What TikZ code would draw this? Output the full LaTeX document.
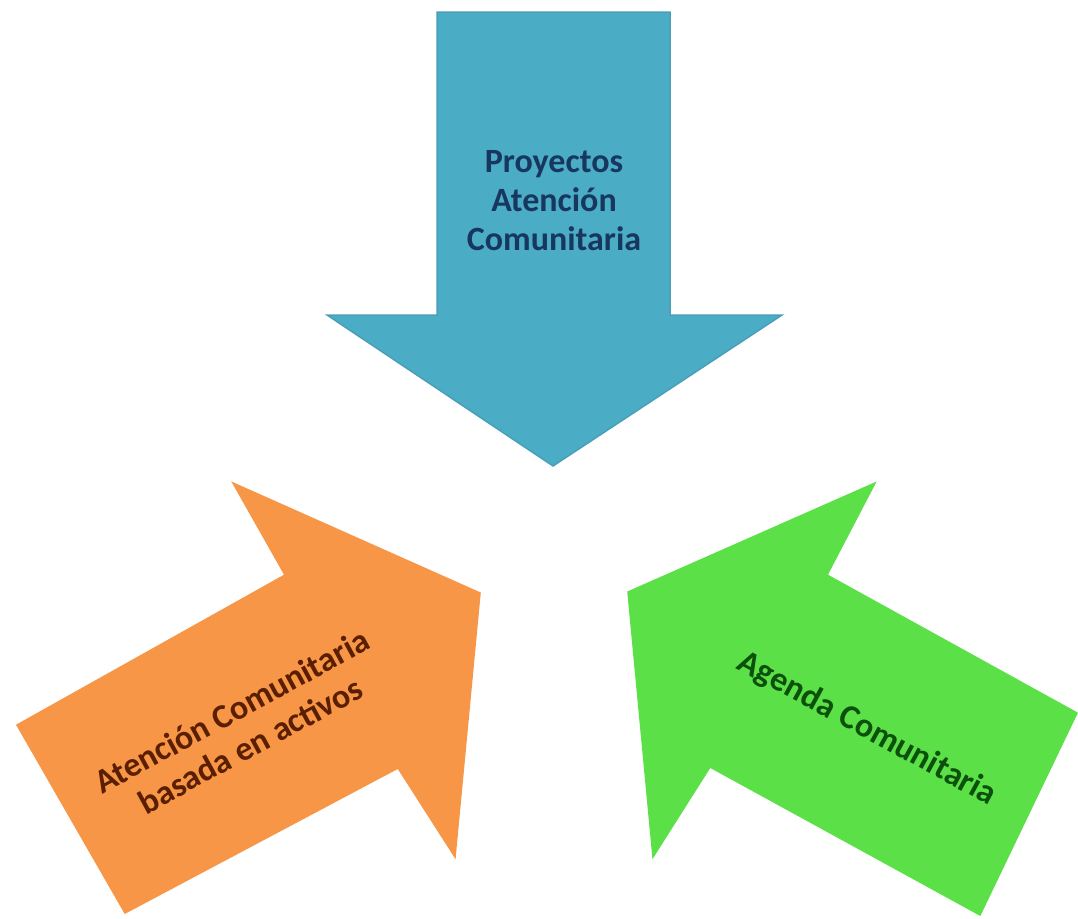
\documentclass[tikz,border=0pt]{standalone}
\usepackage{fontspec}
\setmainfont{Carlito}
\definecolor{bluefill}{HTML}{4BACC6}
\definecolor{blueline}{HTML}{4A9FB8}
\definecolor{orangefill}{HTML}{F79646}
\definecolor{greenfill}{HTML}{5CE048}
\definecolor{bluetext}{HTML}{17375E}
\definecolor{orangetext}{HTML}{5A1E00}
\definecolor{greentext}{HTML}{0B500B}
\tikzset{
  arrowshape/.style={line join=miter, line width=1.5pt},
  label/.style={font=\bfseries\fontsize{34}{39}\selectfont, align=center, inner sep=0pt}
}
\begin{document}
\begin{tikzpicture}[x=1pt,y=-1pt]
\useasboundingbox (0,0) rectangle (1078,918);
% blue arrow (down)
\filldraw[arrowshape, fill=bluefill, draw=blueline]
  (437,12) -- (670,12) -- (670,315) -- (782,315) -- (553,466) -- (327,315) -- (437,315) -- cycle;
% orange arrow (up-right)
\filldraw[arrowshape, fill=orangefill, draw=orangefill]
  (17,725) -- (285,575) -- (233,483) -- (480,593) -- (455,857) -- (398,768) -- (125,913) -- cycle;
% green arrow (up-left)
\filldraw[arrowshape, fill=greenfill, draw=greenfill]
  (1077,713) -- (827,575) -- (875,483) -- (628,592) -- (653,857) -- (710,767) -- (980,915) -- cycle;
\node[label, text=bluetext] (proy) at (554,201) {Proyectos\\Atención\\Comunitaria};
\node[label, text=orangetext, rotate=28.5] (activos) at (241,728) {Atención Comunitaria\\basada en activos};
\node[label, text=greentext, rotate=-28.5] (agenda) at (867,729) {Agenda Comunitaria};
\end{tikzpicture}
\end{document}
